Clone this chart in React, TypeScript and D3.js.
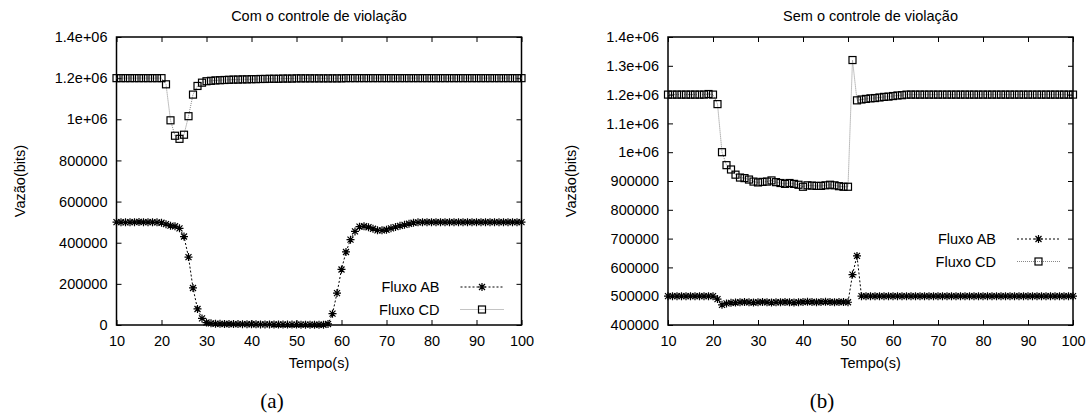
import React, { useRef, useEffect } from 'react';
import * as d3 from 'd3';

// tempo (s)
const time = [
  10, 11, 12, 13, 14, 15, 16, 17, 18, 19,
  20, 21, 22, 23, 24, 25, 26, 27, 28, 29,
  30, 31, 32, 33, 34, 35, 36, 37, 38, 39,
  40, 41, 42, 43, 44, 45, 46, 47, 48, 49,
  50, 51, 52, 53, 54, 55, 56, 57, 58, 59,
  60, 61, 62, 63, 64, 65, 66, 67, 68, 69,
  70, 71, 72, 73, 74, 75, 76, 77, 78, 79,
  80, 81, 82, 83, 84, 85, 86, 87, 88, 89,
  90, 91, 92, 93, 94, 95, 96, 97, 98, 99,
  100,
];

// (a) com o controle de violacao
const comAB = [
  500000, 500000, 499000, 500000, 500000, 501000, 500000, 500000, 500000, 499000,
  497000, 490000, 483000, 480000, 470000, 430000, 330000, 180000, 78000, 32000,
  12000, 8000, 6000, 5500, 5000, 5000, 4500, 4500, 4000, 4000,
  3500, 3500, 3000, 3000, 3000, 2500, 2500, 2500, 2000, 2000,
  2000, 1500, 1500, 1500, 1000, 1000, 1000, 5000, 55000, 155000,
  270000, 355000, 415000, 455000, 478000, 480000, 475000, 468000, 460000, 460000,
  463000, 470000, 476000, 482000, 487000, 492000, 497000, 499000, 500000, 500000,
  500000, 500000, 500000, 500000, 500000, 500000, 500000, 500000, 500000, 500000,
  500000, 500000, 500000, 500000, 500000, 500000, 500000, 500000, 500000, 500000,
  500000,
];
const comCD = [
  1200000, 1200000, 1200000, 1200000, 1200000, 1200000, 1200000, 1200000, 1200000, 1200000,
  1200000, 1170000, 995000, 920000, 905000, 925000, 1015000, 1120000, 1162000, 1178000,
  1185000, 1187000, 1189000, 1190000, 1191000, 1192000, 1193000, 1193000, 1194000, 1194000,
  1195000, 1195000, 1196000, 1196000, 1197000, 1197000, 1197000, 1198000, 1198000, 1198000,
  1199000, 1199000, 1199000, 1199000, 1199000, 1199000, 1199000, 1199000, 1199000, 1199000,
  1199000, 1200000, 1200000, 1200000, 1200000, 1200000, 1200000, 1200000, 1200000, 1200000,
  1200000, 1200000, 1200000, 1200000, 1200000, 1200000, 1200000, 1200000, 1200000, 1200000,
  1200000, 1200000, 1200000, 1200000, 1200000, 1200000, 1200000, 1200000, 1200000, 1200000,
  1200000, 1200000, 1200000, 1200000, 1200000, 1200000, 1200000, 1200000, 1200000, 1200000,
  1200000,
];

// (b) sem o controle de violacao
const semAB = [
  500000, 500000, 500000, 500000, 500000, 500000, 500000, 500000, 500000, 500000,
  500000, 490000, 470000, 475000, 477000, 478000, 479000, 480000, 479000, 478000,
  479000, 480000, 479000, 478000, 479000, 479000, 480000, 479000, 478000, 479000,
  480000, 481000, 480000, 479000, 480000, 481000, 480000, 479000, 480000, 480000,
  479000, 575000, 640000, 500000, 500000, 500000, 500000, 500000, 500000, 500000,
  500000, 500000, 500000, 500000, 500000, 500000, 500000, 500000, 500000, 500000,
  500000, 500000, 500000, 500000, 500000, 500000, 500000, 500000, 500000, 500000,
  500000, 500000, 500000, 500000, 500000, 500000, 500000, 500000, 500000, 500000,
  500000, 500000, 500000, 500000, 500000, 500000, 500000, 500000, 500000, 500000,
  500000,
];
const semCD = [
  1200000, 1200000, 1200000, 1200000, 1200000, 1200000, 1200000, 1200000, 1200000, 1202000,
  1200000, 1167000, 1000000, 955000, 940000, 922000, 912000, 910000, 905000, 898000,
  895000, 897000, 898000, 902000, 896000, 893000, 890000, 893000, 890000, 887000,
  880000, 885000, 884000, 883000, 883000, 885000, 887000, 885000, 882000, 880000,
  880000, 1320000, 1180000, 1183000, 1185000, 1187000, 1188000, 1190000, 1192000, 1193000,
  1195000, 1197000, 1198000, 1200000, 1200000, 1200000, 1200000, 1200000, 1200000, 1200000,
  1200000, 1200000, 1200000, 1200000, 1200000, 1200000, 1200000, 1200000, 1200000, 1200000,
  1200000, 1200000, 1200000, 1200000, 1200000, 1200000, 1200000, 1200000, 1200000, 1200000,
  1200000, 1200000, 1200000, 1200000, 1200000, 1200000, 1200000, 1200000, 1200000, 1200000,
  1200000,
];

const xTicks = [10, 20, 30, 40, 50, 60, 70, 80, 90, 100];
const comYTicks = [0, 200000, 400000, 600000, 800000, 1000000, 1200000, 1400000];
const semYTicks = [400000, 500000, 600000, 700000, 800000, 900000, 1000000, 1100000, 1200000, 1300000, 1400000];
const seriesNames = ['Fluxo AB', 'Fluxo CD'];
const titles = ['Com o controle de violação', 'Sem o controle de violação'];
const captions = ['(a)', '(b)'];

const FONT = '"Liberation Sans", Arial, Helvetica, sans-serif';
const FS = 14.5;
const W = 1089;
const H = 417;
const TOP = 37;
const BOTTOM = 325;

const panels = [
  { title: titles[0], ab: comAB, cd: comCD, yTicks: comYTicks, x0: 116.5, x1: 521.5, legX: 439.5, legY: 287, capX: 272 },
  { title: titles[1], ab: semAB, cd: semCD, yTicks: semYTicks, x0: 668, x1: 1073, legX: 996, legY: 239, capX: 822 },
];

// gnuplot style: 1.4e+06, 1e+06, 800000
const fmt = (v) => (v >= 1e6 ? `${d3.format('~g')(v / 1e6)}e+06` : `${v}`);

const star = (x, y) =>
  `M${x - 4},${y}h8M${x},${y - 4}v8M${x - 3},${y - 3}l6,6M${x - 3},${y + 3}l6,-6`;

const App = () => {
  const svgRef = useRef(null);

  useEffect(() => {
    const svg = d3.select(svgRef.current);
    svg.selectAll('*').remove();

    panels.forEach((p, pi) => {
      const g = svg.append('g');
      const x = d3.scaleLinear().domain([xTicks[0], xTicks[xTicks.length - 1]]).range([p.x0, p.x1]);
      const y = d3
        .scaleLinear()
        .domain([p.yTicks[0], p.yTicks[p.yTicks.length - 1]])
        .range([BOTTOM, TOP]);

      const styleAxis = (a) => {
        a.attr('font-size', FS).attr('font-family', FONT);
        a.select('.domain').remove();
        a.selectAll('text').attr('fill', '#000');
        a.selectAll('line').attr('stroke', '#000');
      };

      g.append('g')
        .attr('transform', `translate(${p.x0},0)`)
        .call(d3.axisLeft(y).tickValues(p.yTicks).tickFormat(fmt).tickSize(-5).tickPadding(9))
        .call(styleAxis);
      g.append('g')
        .attr('transform', `translate(${p.x1},0)`)
        .call(d3.axisRight(y).tickValues(p.yTicks).tickFormat(() => '').tickSize(-5))
        .call(styleAxis);
      g.append('g')
        .attr('transform', `translate(0,${BOTTOM})`)
        .call(d3.axisBottom(x).tickValues(xTicks).tickSize(-5).tickPadding(11))
        .call(styleAxis);
      g.append('g')
        .attr('transform', `translate(0,${TOP})`)
        .call(d3.axisTop(x).tickValues(xTicks).tickFormat(() => '').tickSize(-5))
        .call(styleAxis);

      g.append('rect')
        .attr('x', p.x0)
        .attr('y', TOP)
        .attr('width', p.x1 - p.x0)
        .attr('height', BOTTOM - TOP)
        .attr('fill', 'none')
        .attr('stroke', '#000')
        .attr('stroke-width', 1.5);

      const line = d3
        .line()
        .x((d, i) => x(time[i]))
        .y((d) => y(d));

      // Fluxo AB
      g.append('path')
        .attr('d', line(p.ab))
        .attr('fill', 'none')
        .attr('stroke', '#000')
        .attr('stroke-width', 1)
        .attr('stroke-dasharray', '2,2');
      g.append('g')
        .selectAll('path')
        .data(p.ab)
        .join('path')
        .attr('d', (d, i) => star(x(time[i]), y(d)))
        .attr('stroke', '#000')
        .attr('stroke-width', 1.2);

      // Fluxo CD
      g.append('path')
        .attr('d', line(p.cd))
        .attr('fill', 'none')
        .attr('stroke', '#888')
        .attr('stroke-width', 1)
        .attr('stroke-dasharray', '1,1');
      g.append('g')
        .selectAll('rect')
        .data(p.cd)
        .join('rect')
        .attr('x', (d, i) => x(time[i]) - 3.5)
        .attr('y', (d) => y(d) - 3.5)
        .attr('width', 7)
        .attr('height', 7)
        .attr('fill', 'none')
        .attr('stroke', '#000')
        .attr('stroke-width', 1.2);

      // legend
      const leg = g.append('g').attr('font-family', FONT).attr('font-size', FS);
      seriesNames.forEach((name, si) => {
        const ly = p.legY + si * 22.5;
        leg.append('text')
          .attr('x', p.legX)
          .attr('y', ly)
          .attr('dy', '0.35em')
          .attr('text-anchor', 'end')
          .text(name);
        const lx0 = p.legX + 21;
        const lx1 = p.legX + 64;
        const mx = (lx0 + lx1) / 2;
        leg.append('line')
          .attr('x1', lx0)
          .attr('x2', lx1)
          .attr('y1', ly)
          .attr('y2', ly)
          .attr('stroke', si === 0 ? '#000' : '#888')
          .attr('stroke-dasharray', si === 0 ? '2,2' : '1,1');
        if (si === 0) {
          leg.append('path').attr('d', star(mx, ly)).attr('stroke', '#000').attr('stroke-width', 1.2);
        } else {
          leg.append('rect')
            .attr('x', mx - 3.5)
            .attr('y', ly - 3.5)
            .attr('width', 7)
            .attr('height', 7)
            .attr('fill', 'none')
            .attr('stroke', '#000')
            .attr('stroke-width', 1.2);
        }
      });

      const cx = (p.x0 + p.x1) / 2;
      g.append('text')
        .attr('x', cx)
        .attr('y', 16)
        .attr('dy', '0.35em')
        .attr('text-anchor', 'middle')
        .attr('font-family', FONT)
        .attr('font-size', FS)
        .text(p.title);
      g.append('text')
        .attr('x', cx)
        .attr('y', 363)
        .attr('dy', '0.35em')
        .attr('text-anchor', 'middle')
        .attr('font-family', FONT)
        .attr('font-size', FS)
        .text('Tempo(s)');
      g.append('text')
        .attr('transform', `translate(${p.x0 - 97},${(TOP + BOTTOM) / 2}) rotate(-90)`)
        .attr('dy', '0.35em')
        .attr('text-anchor', 'middle')
        .attr('font-family', FONT)
        .attr('font-size', FS)
        .text('Vazão(bits)');
      g.append('text')
        .attr('x', p.capX)
        .attr('y', 401)
        .attr('dy', '0.35em')
        .attr('text-anchor', 'middle')
        .attr('font-family', '"Liberation Serif", "Times New Roman", serif')
        .attr('font-size', 21)
        .text(captions[pi]);
    });
  }, []);

  return (
    <svg
      ref={svgRef}
      width={W}
      height={H}
      style={{ position: 'absolute', left: 0, top: 0, background: '#fff' }}
    />
  );
};

export default App;
